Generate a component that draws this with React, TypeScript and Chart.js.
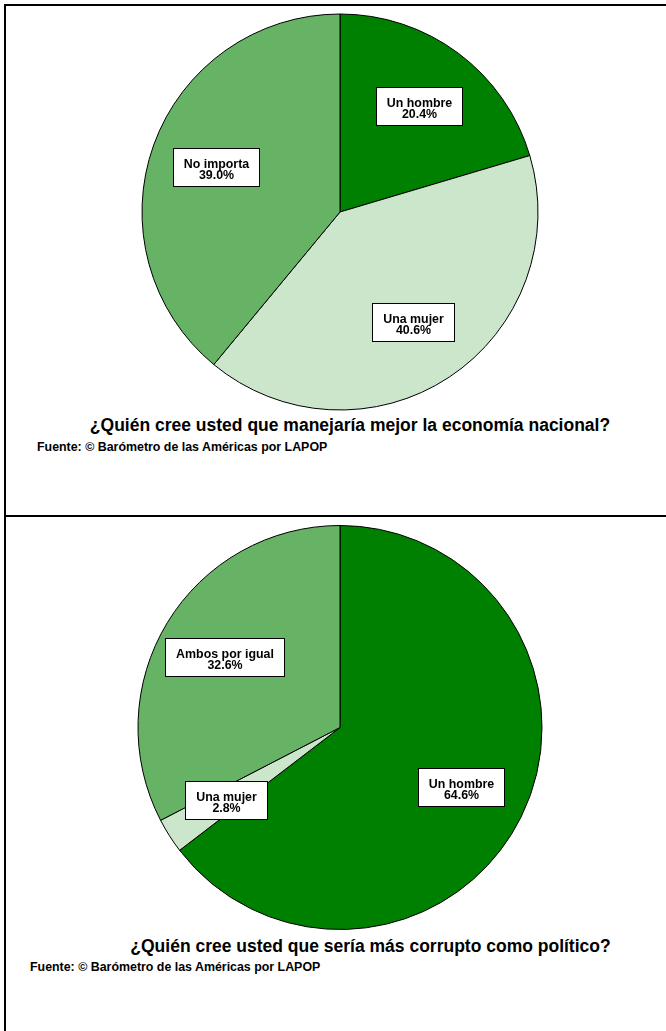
import React, { useEffect, useRef } from "react";
import { Chart, registerables } from "chart.js";

Chart.register(...registerables);

// ---- Data ----
const topCategories = ["Un hombre", "Una mujer", "No importa"];
const topValues = [20.4, 40.6, 39.0];
const topTitle = "¿Quién cree usted que manejaría mejor la economía nacional?";

const bottomCategories = ["Un hombre", "Una mujer", "Ambos por igual"];
const bottomValues = [64.6, 2.8, 32.6];
const bottomTitle = "¿Quién cree usted que sería más corrupto como político?";

const sourceText = "Fuente: © Barómetro de las Américas por LAPOP";
const sliceColors = ["#008000", "#CCE6CC", "#66B366"];

const FONT = "'Liberation Sans', Arial, Helvetica, sans-serif";

const boxLabelPlugin = {
  id: "boxLabels",
  afterDatasetsDraw(chart: any) {
    const ctx = chart.ctx;
    const meta = chart.getDatasetMeta(0);
    const labels = chart.data.labels;
    const data = chart.data.datasets[0].data;
    ctx.save();
    ctx.font = `bold 12.4px ${FONT}`;
    meta.data.forEach((arc: any, i: number) => {
      const { x, y, startAngle, endAngle, outerRadius } = arc.getProps(
        ["x", "y", "startAngle", "endAngle", "outerRadius"],
        true
      );
      const mid = (startAngle + endAngle) / 2;
      const r = outerRadius * 0.667;
      const cx = x + Math.cos(mid) * r;
      const cy = y + Math.sin(mid) * r;
      const l1 = String(labels[i]);
      const l2 = Number(data[i]).toFixed(1) + "%";
      const w = Math.round(Math.max(ctx.measureText(l1).width, ctx.measureText(l2).width) + 21);
      const h = 38;
      const bx = Math.round(cx - w / 2) + 0.5;
      const by = Math.round(cy - h / 2) + 0.5;
      ctx.fillStyle = "#ffffff";
      ctx.fillRect(bx, by, w, h);
      ctx.strokeStyle = "#000000";
      ctx.lineWidth = 1;
      ctx.strokeRect(bx, by, w, h);
      ctx.fillStyle = "#000000";
      ctx.textAlign = "center";
      ctx.textBaseline = "alphabetic";
      ctx.fillText(l1, bx + w / 2, by + h / 2 + 0.5);
      ctx.fillText(l2, bx + w / 2, by + h / 2 + 11.6);
    });
    ctx.restore();
  },
};

function PieChart(props: {
  labels: string[];
  values: number[];
  radius: number;
  left: number;
  top: number;
  width: number;
  height: number;
}) {
  const ref = useRef<HTMLCanvasElement | null>(null);
  useEffect(() => {
    if (!ref.current) return;
    const chart = new Chart(ref.current, {
      type: "pie",
      data: {
        labels: props.labels,
        datasets: [
          {
            data: props.values,
            backgroundColor: sliceColors,
            borderColor: "#000000",
            borderWidth: 1,
            radius: props.radius,
          } as any,
        ],
      },
      options: {
        responsive: false,
        animation: false,
        devicePixelRatio: 1,
        layout: { padding: 0 },
        plugins: {
          legend: { display: false },
          tooltip: { enabled: false },
          title: { display: false },
        },
      },
      plugins: [boxLabelPlugin],
    });
    return () => chart.destroy();
  }, []);
  return (
    <canvas
      ref={ref}
      width={props.width}
      height={props.height}
      style={{
        position: "absolute",
        left: props.left,
        top: props.top,
        width: props.width,
        height: props.height,
      }}
    />
  );
}

const titleStyle = (centerX: number, top: number): React.CSSProperties => ({
  position: "absolute",
  left: centerX - 320,
  width: 640,
  top,
  textAlign: "center",
  fontFamily: FONT,
  fontWeight: "bold",
  fontSize: 17.5,
  lineHeight: "20px",
  whiteSpace: "nowrap",
  color: "#000",
});

const sourceStyle = (left: number, top: number): React.CSSProperties => ({
  position: "absolute",
  left,
  top,
  fontFamily: FONT,
  fontWeight: "bold",
  fontSize: 12.4,
  lineHeight: "15px",
  whiteSpace: "nowrap",
  color: "#000",
});

export default function App() {
  return (
    <div
      style={{
        position: "absolute",
        left: 0,
        top: 0,
        width: 666,
        height: 1031,
        background: "#ffffff",
        overflow: "hidden",
      }}
    >
      {/* panel borders */}
      <div style={{ position: "absolute", left: 4, top: 4, width: 662, height: 2, background: "#000" }} />
      <div style={{ position: "absolute", left: 4, top: 515, width: 662, height: 2, background: "#000" }} />
      <div style={{ position: "absolute", left: 4, top: 4, width: 2, height: 1027, background: "#000" }} />

      <PieChart labels={topCategories} values={topValues} radius={198} left={140} top={12} width={400} height={400} />
      <div style={titleStyle(350, 414.5)}>{topTitle}</div>
      <div style={sourceStyle(37, 440)}>{sourceText}</div>

      <PieChart labels={bottomCategories} values={bottomValues} radius={202} left={136} top={523} width={408} height={409} />
      <div style={titleStyle(370.5, 935.5)}>{bottomTitle}</div>
      <div style={sourceStyle(30, 960)}>{sourceText}</div>
    </div>
  );
}
